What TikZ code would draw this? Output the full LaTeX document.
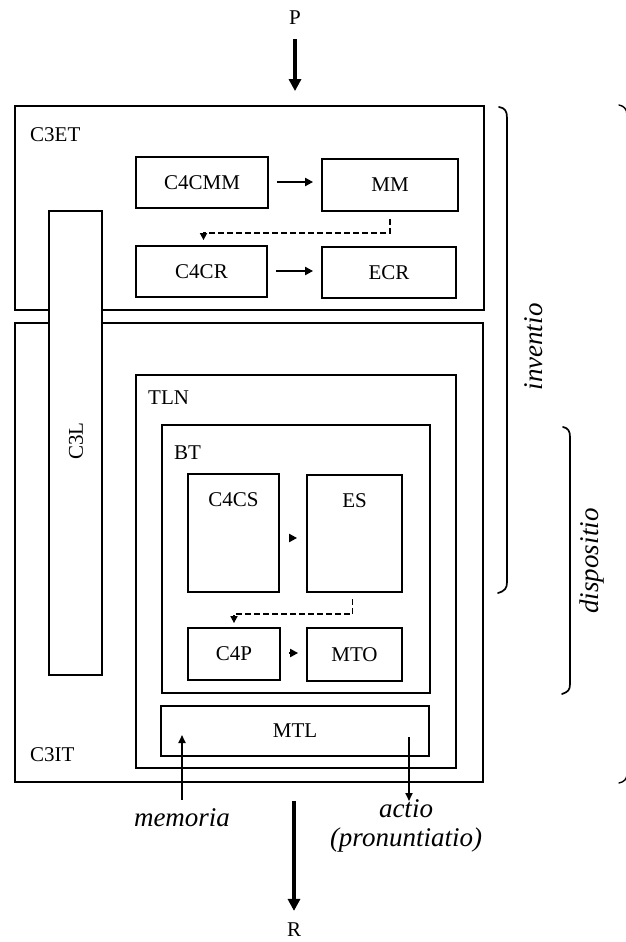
\documentclass[tikz,border=0pt]{standalone}
\usepackage{fontspec}
\setmainfont{Liberation Serif}
\usetikzlibrary{arrows.meta,calc}
\begin{document}
\begin{tikzpicture}[x=1pt,y=-1pt,
  box/.style={draw,line width=1.8pt,inner sep=0pt,fill=white,font=\fontsize{21}{24}\selectfont},
  lbl/.style={inner sep=0pt,font=\fontsize{21}{24}\selectfont},
  itl/.style={inner sep=0pt,font=\fontsize{27}{29}\selectfont\itshape},
  arr/.style={line width=2pt,-{Triangle[length=8pt,width=8pt]}},
  dasharr/.style={line width=1.6pt,dash pattern=on 6pt off 3pt,-{Triangle[length=7pt,width=7pt]}},
  bigarr/.style={line width=4pt,-{Triangle[length=12pt,width=12pt]}},
  brk/.style={line width=1.7pt,line cap=round}]
\useasboundingbox[fill=white] (0,0) rectangle (625,942);
% containers
\node[box,minimum width=469pt,minimum height=204pt] (c3et) at (249.5,208) {};
\node[box,minimum width=468pt,minimum height=459pt] (c3it) at (249,552.5) {};
\node[box,minimum width=53pt,minimum height=464pt] (c3l) at (75.5,443) {};
\node[lbl,rotate=90] (c3llbl) at (76,441) {C3L};
\node[box,minimum width=320pt,minimum height=393pt] (tln) at (296,571.5) {};
\node[box,minimum width=268pt,minimum height=268pt] (bt) at (296,559) {};
\node[lbl,anchor=west] (c3etlbl) at (30,135) {C3ET};
\node[lbl,anchor=west] (tlnlbl) at (148,398) {TLN};
\node[lbl,anchor=west] (btlbl) at (174,453) {BT};
\node[lbl,anchor=west] (c3itlbl) at (30,755) {C3IT};
% inner boxes
\node[box,minimum width=132pt,minimum height=51pt] (c4cmm) at (202,182.5) {C4CMM};
\node[box,minimum width=136pt,minimum height=52pt] (mm) at (390,185) {MM};
\node[box,minimum width=131pt,minimum height=51pt] (c4cr) at (201.5,271.5) {C4CR};
\node[box,minimum width=134pt,minimum height=51pt] (ecr) at (389,272.5) {ECR};
\node[box,minimum width=91pt,minimum height=118pt,label={[lbl,anchor=north,yshift=-19pt]north:C4CS}] (c4cs) at (233.5,533) {};
\node[box,minimum width=95pt,minimum height=117pt,label={[lbl,anchor=north,yshift=-19pt]north:ES}] (es) at (354.5,533.5) {};
\node[box,minimum width=92pt,minimum height=52pt] (c4p) at (234,654) {C4P};
\node[box,minimum width=95pt,minimum height=53pt] (mto) at (354.5,654.5) {MTO};
\node[box,minimum width=268pt,minimum height=50pt] (mtl) at (295,731) {MTL};
% connectors
\draw[arr,shorten <=8pt,shorten >=8pt] (c4cmm.east |- 0,182) -- (mm.west |- 0,182);
\draw[arr,shorten <=8pt,shorten >=8pt] (c4cr.east |- 0,271) -- (ecr.west |- 0,271);
\draw[arr,shorten <=9pt,shorten >=9pt] (c4cs.east |- 0,538) -- (es.west |- 0,538);
\draw[arr,shorten <=8pt,shorten >=8pt] (c4p.east |- 0,653) -- (mto.west |- 0,653);
\draw[dasharr] ([yshift=-7pt]mm.south) -- ([yshift=-21pt]mm.south) -| ([xshift=2pt,yshift=5pt]c4cr.north);
\draw[dasharr] ([xshift=-2pt,yshift=-6pt]es.south) -- ([xshift=-2pt,yshift=-21pt]es.south) -| ([yshift=4pt]c4p.north);
% P and R
\node[lbl] (P) at (295,18) {P};
\draw[bigarr,shorten <=14pt,shorten >=14pt] (P.south) -- (P.south |- c3et.north);
\node[lbl] (R) at (294,930) {R};
\draw[bigarr,shorten <=18pt,shorten >=12pt] (R.north |- c3it.south) -- (R.north);
% memoria / actio
\node[itl] (memoria) at (182,818) {memoria};
\node[itl,align=center] (actio) at (406,826) {actio\\(pronuntiatio)};
\coordinate (memtip) at (182,735);
\coordinate (memfoot) at (182,800);
\draw[line width=1.8pt,-{Triangle[length=8pt,width=7pt]}] (memfoot) -- (memtip);
\coordinate (actiotop) at (409,737);
\coordinate (actiofoot) at (409,801);
\draw[line width=1.8pt,-{Triangle[length=8pt,width=7pt]}] (actiotop) -- (actiofoot);
% brackets
\draw[brk] (499,107) .. controls (505,108) and (507,111) .. (507,118) -- (507,582) .. controls (507,588) and (505,591) .. (498,593);
\draw[brk] (563,427) .. controls (568,428) and (570,431) .. (570,437) -- (570,684) .. controls (570,690) and (568,692) .. (562,694);
\draw[brk,line width=1.4pt] (619,105) .. controls (624,106) and (627,109) .. (627,115) -- (627,774) .. controls (627,779) and (624,782) .. (619,783);
\node[itl,rotate=90] (inventio) at (534,347) {inventio};
\node[itl,rotate=90] (dispositio) at (592,561) {dispositio};
\end{tikzpicture}
\end{document}
